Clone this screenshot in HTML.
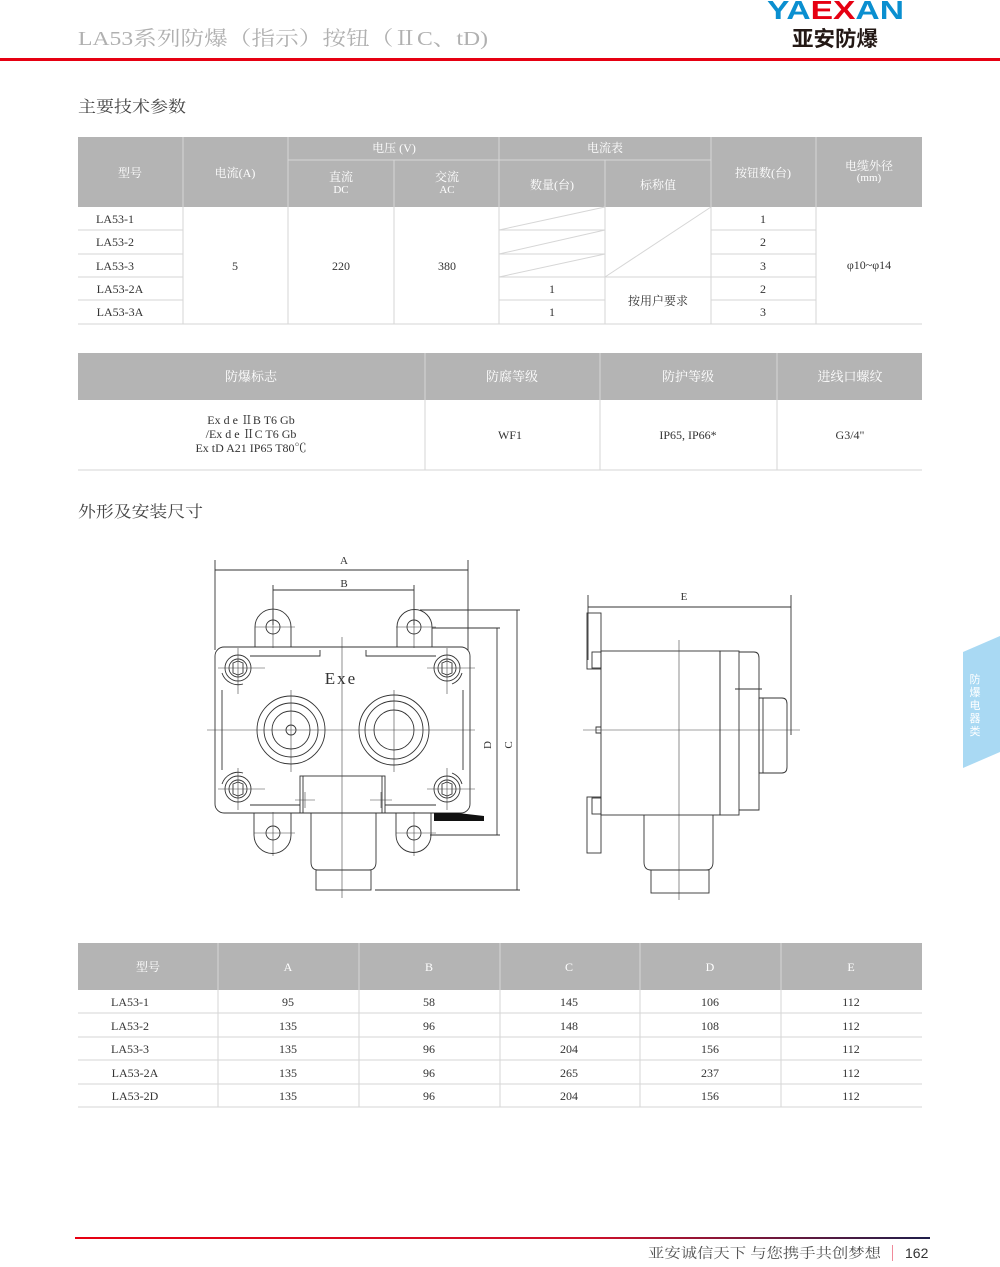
<!DOCTYPE html>
<html><head><meta charset="utf-8"><style>
html,body{margin:0;padding:0;background:#fff;}
svg{display:block;}
.t{font-family:"Liberation Serif","Noto Serif CJK SC",serif;}
.s{font-family:"Liberation Sans","Noto Sans CJK SC",sans-serif;}
</style></head><body>
<svg width="1000" height="1267" viewBox="0 0 1000 1267" xmlns="http://www.w3.org/2000/svg">
<defs><linearGradient id="fg" x1="0" x2="1"><stop offset="0" stop-color="#e60012"/><stop offset="0.6" stop-color="#d0102a"/><stop offset="1" stop-color="#1e1e4a"/></linearGradient></defs>
<!-- header -->
<text x="78" y="45" class="t" font-size="20" fill="#b0b0b0" textLength="410" lengthAdjust="spacingAndGlyphs">LA53系列防爆（指示）按钮（ⅡC、tD)</text>
<text x="767" y="19" class="s" font-size="26" font-weight="bold" textLength="137" lengthAdjust="spacingAndGlyphs"><tspan fill="#0a8fd0">YA</tspan><tspan fill="#e60012">EX</tspan><tspan fill="#0a8fd0">AN</tspan></text>
<text x="792" y="46" class="s" font-size="21" font-weight="bold" fill="#231815" textLength="86" lengthAdjust="spacingAndGlyphs">亚安防爆</text>
<rect x="0" y="58" width="1000" height="3" fill="#e60012"/>
<text x="78" y="112" class="t" font-size="16" fill="#444" textLength="108" lengthAdjust="spacingAndGlyphs">主要技术参数</text>
<text x="78" y="517" class="t" font-size="16" fill="#444" textLength="125" lengthAdjust="spacingAndGlyphs">外形及安装尺寸</text>

<!-- table1 -->
<rect x="78" y="137" width="844" height="70" fill="#b4b4b4"/>
<g stroke="#d6d6d6" stroke-width="1">
<line x1="183" y1="137" x2="183" y2="324"/><line x1="288" y1="137" x2="288" y2="324"/>
<line x1="394" y1="160" x2="394" y2="324"/><line x1="499" y1="137" x2="499" y2="324"/>
<line x1="605" y1="160" x2="605" y2="324"/><line x1="711" y1="137" x2="711" y2="324"/>
<line x1="816" y1="137" x2="816" y2="324"/>
<line x1="288" y1="160" x2="711" y2="160"/>
<line x1="78" y1="230" x2="183" y2="230"/><line x1="78" y1="254" x2="183" y2="254"/><line x1="78" y1="277" x2="183" y2="277"/><line x1="78" y1="300" x2="183" y2="300"/>
<line x1="499" y1="230" x2="605" y2="230"/><line x1="499" y1="254" x2="605" y2="254"/><line x1="499" y1="277" x2="711" y2="277"/><line x1="499" y1="300" x2="605" y2="300"/>
<line x1="711" y1="230" x2="816" y2="230"/><line x1="711" y1="254" x2="816" y2="254"/><line x1="711" y1="277" x2="816" y2="277"/><line x1="711" y1="300" x2="816" y2="300"/>
<line x1="78" y1="324" x2="922" y2="324"/>
<line x1="499" y1="230" x2="605" y2="207"/><line x1="499" y1="254" x2="605" y2="230"/><line x1="499" y1="277" x2="605" y2="254"/>
<line x1="605" y1="277" x2="711" y2="207"/>
</g>
<g class="t" font-size="12" fill="#fff" text-anchor="middle">
<text x="130" y="177">型号</text><text x="235" y="177">电流(A)</text>
<text x="394" y="152">电压 (V)</text><text x="605" y="152">电流表</text>
<text x="341" y="181">直流</text><text x="341" y="193" font-size="11">DC</text>
<text x="447" y="181">交流</text><text x="447" y="193" font-size="11">AC</text>
<text x="552" y="189">数量(台)</text><text x="658" y="189">标称值</text>
<text x="763" y="177">按钮数(台)</text>
<text x="869" y="170">电缆外径</text><text x="869" y="181" font-size="11">(mm)</text>
</g>
<g class="t" font-size="12" fill="#333" text-anchor="middle">
<text x="115" y="223">LA53-1</text><text x="115" y="246">LA53-2</text><text x="115" y="270">LA53-3</text>
<text x="120" y="293">LA53-2A</text><text x="120" y="316">LA53-3A</text>
<text x="235" y="270">5</text><text x="341" y="270">220</text><text x="447" y="270">380</text>
<text x="552" y="293">1</text><text x="552" y="316">1</text>
<text x="658" y="305">按用户要求</text>
<text x="763" y="223">1</text><text x="763" y="246">2</text><text x="763" y="270">3</text><text x="763" y="293">2</text><text x="763" y="316">3</text>
<text x="869" y="269">φ10~φ14</text>
</g>

<!-- table2 -->
<rect x="78" y="353" width="844" height="47" fill="#b4b4b4"/>
<g stroke="#d6d6d6"><line x1="425" y1="353" x2="425" y2="470"/><line x1="600" y1="353" x2="600" y2="470"/><line x1="777" y1="353" x2="777" y2="470"/><line x1="78" y1="470" x2="922" y2="470"/></g>
<g class="t" font-size="13" fill="#fff" text-anchor="middle">
<text x="251" y="381">防爆标志</text><text x="512" y="381">防腐等级</text><text x="688" y="381">防护等级</text><text x="850" y="381">进线口螺纹</text>
</g>
<g class="t" font-size="12" fill="#333" text-anchor="middle">
<text x="251" y="424">Ex d e ⅡB T6 Gb</text><text x="251" y="438">/Ex d e ⅡC T6 Gb</text><text x="251" y="452">Ex tD A21 IP65 T80℃</text>
<text x="510" y="439">WF1</text><text x="688" y="439">IP65, IP66*</text><text x="850" y="439">G3/4"</text>
</g>

<!-- table3 -->
<rect x="78" y="943" width="844" height="47" fill="#b4b4b4"/>
<g stroke="#d6d6d6">
<line x1="218" y1="943" x2="218" y2="1107"/><line x1="359" y1="943" x2="359" y2="1107"/><line x1="500" y1="943" x2="500" y2="1107"/><line x1="640" y1="943" x2="640" y2="1107"/><line x1="781" y1="943" x2="781" y2="1107"/>
<line x1="78" y1="1013" x2="922" y2="1013"/><line x1="78" y1="1037" x2="922" y2="1037"/><line x1="78" y1="1060" x2="922" y2="1060"/><line x1="78" y1="1084" x2="922" y2="1084"/><line x1="78" y1="1107" x2="922" y2="1107"/>
</g>
<g class="t" font-size="12" fill="#fff" text-anchor="middle">
<text x="148" y="971">型号</text><text x="288" y="971">A</text><text x="429" y="971">B</text><text x="569" y="971">C</text><text x="710" y="971">D</text><text x="851" y="971">E</text>
</g>
<g class="t" font-size="12" fill="#333" text-anchor="middle">
<text x="130" y="1006">LA53-1</text><text x="288" y="1006">95</text><text x="429" y="1006">58</text><text x="569" y="1006">145</text><text x="710" y="1006">106</text><text x="851" y="1006">112</text>
<text x="130" y="1030">LA53-2</text><text x="288" y="1030">135</text><text x="429" y="1030">96</text><text x="569" y="1030">148</text><text x="710" y="1030">108</text><text x="851" y="1030">112</text>
<text x="130" y="1053">LA53-3</text><text x="288" y="1053">135</text><text x="429" y="1053">96</text><text x="569" y="1053">204</text><text x="710" y="1053">156</text><text x="851" y="1053">112</text>
<text x="135" y="1077">LA53-2A</text><text x="288" y="1077">135</text><text x="429" y="1077">96</text><text x="569" y="1077">265</text><text x="710" y="1077">237</text><text x="851" y="1077">112</text>
<text x="135" y="1100">LA53-2D</text><text x="288" y="1100">135</text><text x="429" y="1100">96</text><text x="569" y="1100">204</text><text x="710" y="1100">156</text><text x="851" y="1100">112</text>
</g>

<!-- front view drawing -->
<g fill="none" stroke="#333" stroke-width="0.9">
<line x1="215" y1="560" x2="215" y2="650"/><line x1="468" y1="560" x2="468" y2="650"/><line x1="215" y1="570" x2="468" y2="570"/>
<line x1="273" y1="585" x2="273" y2="625"/><line x1="414" y1="585" x2="414" y2="625"/><line x1="273" y1="590" x2="414" y2="590"/>
<path d="M255 647 V627 A18 18 0 0 1 291 627 V647"/><circle cx="273" cy="627" r="7"/>
<path d="M397 647 V627 A17.5 17.5 0 0 1 432 627 V647"/><circle cx="414" cy="627" r="7"/>
<path d="M254 813 V835 A18 18 0 0 0 291 835 V813"/><circle cx="273" cy="833" r="7"/>
<path d="M396 813 V835 A17.5 17.5 0 0 0 431 835 V813"/><circle cx="414" cy="833" r="7"/>
<rect x="215" y="647" width="255" height="166" rx="9"/>
<path d="M250 656 H320 V650 M366 650 V656 H436"/>
<path d="M250 805 H300 M385 805 H436"/>
<line x1="222" y1="690" x2="222" y2="770"/><line x1="463" y1="690" x2="463" y2="770"/>
<g>
<circle cx="238" cy="668" r="13"/><circle cx="238" cy="668" r="9"/><polygon points="233,663 238,661 243,663 243,673 238,675 233,673"/>
<circle cx="447" cy="668" r="13"/><circle cx="447" cy="668" r="9"/><polygon points="442,663 447,661 452,663 452,673 447,675 442,673"/>
<circle cx="238" cy="789" r="13"/><circle cx="238" cy="789" r="9"/><polygon points="233,784 238,782 243,784 243,794 238,796 233,794"/>
<circle cx="447" cy="789" r="13"/><circle cx="447" cy="789" r="9"/><polygon points="442,784 447,782 452,784 452,794 447,796 442,794"/>
<path d="M222 673 A17 17 0 0 0 243 684"/><path d="M462 673 A17 17 0 0 1 452 684"/>
<path d="M222 784 A17 17 0 0 1 243 773"/><path d="M462 784 A17 17 0 0 0 452 773"/>
</g>
<circle cx="291" cy="730" r="34"/><circle cx="291" cy="730" r="27"/><circle cx="291" cy="730" r="19"/><circle cx="291" cy="730" r="5"/>
<circle cx="394" cy="730" r="35"/><circle cx="394" cy="730" r="29"/><circle cx="394" cy="730" r="20"/>
<rect x="300" y="776" width="85" height="37"/><line x1="303" y1="776" x2="303" y2="813"/><line x1="382" y1="776" x2="382" y2="813"/>
<path d="M311 813 V862 Q311 870 318 870 H369 Q376 870 376 862 V813"/>
<rect x="316" y="870" width="55" height="20"/>
<line x1="420" y1="610" x2="520" y2="610"/><line x1="375" y1="890" x2="520" y2="890"/><line x1="517" y1="610" x2="517" y2="890"/>
<line x1="432" y1="628" x2="500" y2="628"/><line x1="430" y1="835" x2="500" y2="835"/><line x1="497" y1="628" x2="497" y2="835"/>
</g>
<g stroke="#444" stroke-width="0.6">
<line x1="342" y1="637" x2="342" y2="898"/><line x1="207" y1="730" x2="475" y2="730"/>
<line x1="291" y1="690" x2="291" y2="772"/><line x1="394" y1="690" x2="394" y2="772"/>
<line x1="238" y1="648" x2="238" y2="694"/><line x1="218" y1="668" x2="265" y2="668"/>
<line x1="447" y1="648" x2="447" y2="694"/><line x1="427" y1="668" x2="475" y2="668"/>
<line x1="238" y1="768" x2="238" y2="810"/><line x1="218" y1="789" x2="265" y2="789"/>
<line x1="447" y1="768" x2="447" y2="810"/><line x1="427" y1="789" x2="475" y2="789"/>
<line x1="273" y1="605" x2="273" y2="648"/><line x1="255" y1="627" x2="295" y2="627"/>
<line x1="414" y1="605" x2="414" y2="648"/><line x1="396" y1="627" x2="436" y2="627"/>
<line x1="273" y1="812" x2="273" y2="856"/><line x1="254" y1="833" x2="295" y2="833"/>
<line x1="414" y1="812" x2="414" y2="856"/><line x1="396" y1="833" x2="436" y2="833"/>
<line x1="295" y1="800" x2="315" y2="800"/><line x1="305" y1="792" x2="305" y2="808"/>
<line x1="370" y1="800" x2="392" y2="800"/><line x1="381" y1="792" x2="381" y2="808"/>
</g>
<path d="M434 813 H458 L484 816 V821 H434 Z" fill="#111"/>
<g class="t" fill="#333" text-anchor="middle">
<text x="344" y="564" font-size="11">A</text><text x="344" y="587" font-size="11">B</text>
<text x="684" y="600" font-size="11">E</text>
<text x="341" y="684" font-size="17" letter-spacing="2">Exe</text>
<text transform="translate(491,745) rotate(-90)" font-size="11">D</text>
<text transform="translate(512,745) rotate(-90)" font-size="11">C</text>
</g>

<!-- side view -->
<g fill="none" stroke="#333" stroke-width="0.9">
<line x1="588" y1="595" x2="588" y2="660"/><line x1="791" y1="595" x2="791" y2="735"/><line x1="588" y1="607" x2="791" y2="607"/>
<rect x="587" y="613" width="14" height="56"/><rect x="592" y="652" width="9" height="16"/>
<rect x="587" y="797" width="14" height="56"/><rect x="592" y="798" width="9" height="16"/>
<rect x="601" y="651" width="119" height="164"/>
<rect x="720" y="651" width="19" height="164"/>
<path d="M739 652 H754 Q759 652 759 658 V810 H739"/>
<line x1="735" y1="689" x2="762" y2="689"/>
<path d="M759 698 H782 Q787 698 787 704 V767 Q787 773 782 773 H759 Z"/><line x1="763" y1="698" x2="763" y2="773"/>
<path d="M644 815 V862 Q644 870 651 870 H706 Q713 870 713 862 V815"/>
<rect x="651" y="870" width="58" height="23"/>
<path d="M601 727 H596 V733 H601"/>
</g>
<g stroke="#444" stroke-width="0.6">
<line x1="679" y1="640" x2="679" y2="900"/><line x1="583" y1="730" x2="800" y2="730"/>
</g>

<!-- side tab -->
<polygon points="963,652 1000,636 1000,752 963,768" fill="#a9d9f3"/>
<g class="s" font-size="11" fill="#fff" text-anchor="middle">
<text x="975" y="683">防</text><text x="975" y="696">爆</text><text x="975" y="709">电</text><text x="975" y="722">器</text><text x="975" y="735">类</text>
</g>

<!-- footer -->
<rect x="75" y="1237" width="855" height="2" fill="url(#fg)"/>
<text x="648" y="1258" class="t" font-size="14" fill="#555" textLength="233" lengthAdjust="spacingAndGlyphs">亚安诚信天下 与您携手共创梦想</text>
<rect x="892" y="1245" width="1" height="16" fill="#f08a9a"/>
<text x="905" y="1258" class="s" font-size="14" fill="#333">162</text>
</svg>
</body></html>
